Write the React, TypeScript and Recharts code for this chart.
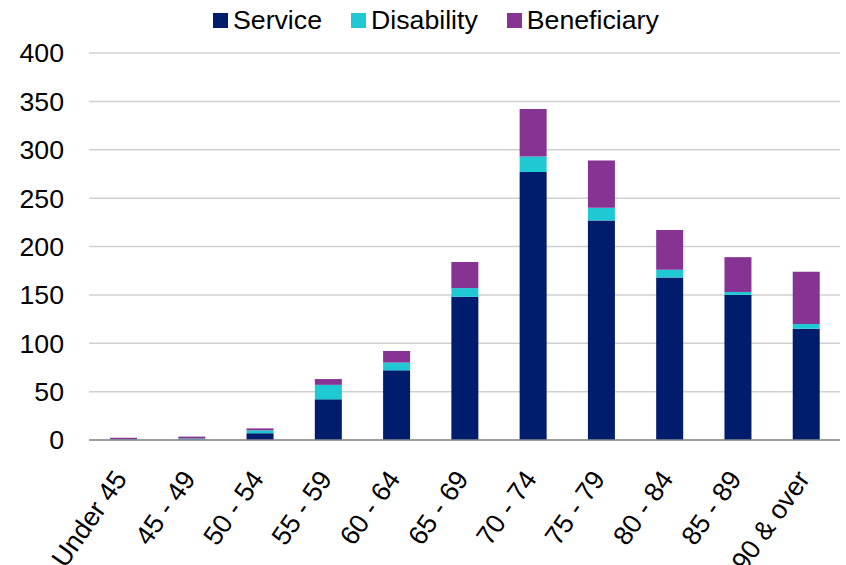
import { BarChart, Bar, XAxis, YAxis, CartesianGrid } from 'recharts';

const ageBands = ['Under 45', '45 - 49', '50 - 54', '55 - 59', '60 - 64', '65 - 69', '70 - 74', '75 - 79', '80 - 84', '85 - 89', '90 & over'];
const service = [0.5, 0.5, 7, 42, 72, 148, 277, 227, 168, 150, 115];
const disability = [0.3, 1, 3, 15, 8, 9, 16, 13, 8, 3, 5];
const beneficiary = [1.5, 2, 2, 6, 12, 27, 49, 49, 41, 36, 54];
const yTicks = [0, 50, 100, 150, 200, 250, 300, 350, 400];

const SERIES = [
  { key: 'service', name: 'Service', color: '#001c6c' },
  { key: 'disability', name: 'Disability', color: '#1fc9d4' },
  { key: 'beneficiary', name: 'Beneficiary', color: '#863394' },
];

const data = ageBands.map((band, i) => ({
  band,
  service: service[i],
  disability: disability[i],
  beneficiary: beneficiary[i],
}));

const FONT = 'Liberation Sans, Arial, sans-serif';
const FS = 26.7;

function AgeTick(props: any) {
  const { x, y, payload } = props;
  const ax = x + 5;
  const ay = y + 31;
  return (
    <text
      x={ax}
      y={ay}
      transform={`rotate(-55, ${ax}, ${ay})`}
      textAnchor="end"
      fontSize={FS}
      fontFamily={FONT}
      fill="#000"
    >
      {payload.value}
    </text>
  );
}

function TopLegend() {
  return (
    <div
      style={{
        position: 'absolute',
        left: 213,
        top: 4,
        display: 'flex',
        alignItems: 'center',
        fontFamily: FONT,
        fontSize: FS,
        color: '#000',
        lineHeight: '32px',
      }}
    >
      {SERIES.map((s) => (
        <div key={s.key} style={{ display: 'flex', alignItems: 'center', marginRight: 29 }}>
          <span style={{ display: 'inline-block', width: 15, height: 15, background: s.color, marginRight: 5 }} />
          <span>{s.name}</span>
        </div>
      ))}
    </div>
  );
}

export default function App() {
  return (
    <div style={{ position: 'absolute', left: 0, top: 0, width: 846, height: 565, background: '#fff' }}>
      <BarChart width={846} height={565} data={data} margin={{ top: 53, right: 6, left: 0, bottom: 0 }} barSize={27}>
        <CartesianGrid vertical={false} stroke="#d0d0d0" strokeWidth={1.5} />
        <XAxis
          dataKey="band"
          interval={0}
          height={125}
          tick={<AgeTick />}
          tickLine={false}
          axisLine={{ stroke: '#888', strokeWidth: 1.5 }}
        />
        <YAxis
          width={89}
          domain={[0, 400]}
          ticks={yTicks}
          axisLine={false}
          tickLine={false}
          tick={{ fontSize: FS, fill: '#000', fontFamily: FONT }}
          tickMargin={19}
        />
        {SERIES.map((s) => (
          <Bar key={s.key} dataKey={s.key} name={s.name} stackId="a" fill={s.color} isAnimationActive={false} />
        ))}
      </BarChart>
      <TopLegend />
    </div>
  );
}
